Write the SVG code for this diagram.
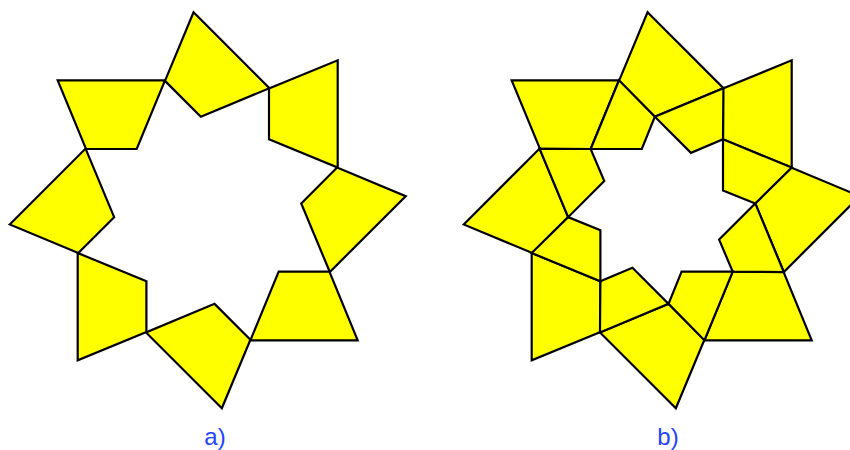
<svg xmlns="http://www.w3.org/2000/svg" xmlns:xlink="http://www.w3.org/1999/xlink" width="850" height="450" viewBox="0 0 850 450">
<style>
.p{fill:#ffff00;stroke:#000;stroke-width:2.2;stroke-linejoin:miter}
.lbl{font-family:"Liberation Sans",Arial,sans-serif;font-size:24px;fill:#2244ff;text-anchor:middle}
</style>
<defs>
<polygon id="outerA" class="p" points="57.7,80.3 165,80.3 136.7,149 86,149"/>
<polygon id="outerB" class="p" points="511.7,80.3 619,80.3 590.7,149 540,149"/>
<polygon id="innerB" class="p" points="619,80.3 654.84,116.75 641.8,149 590.7,149"/>
</defs>
<g id="figure-a">
<g id="a1"><use xlink:href="#outerA"/></g>
<g id="a2"><use xlink:href="#outerA" transform="rotate(45 207.7 210.3)"/></g>
<g id="a3"><use xlink:href="#outerA" transform="rotate(90 207.7 210.3)"/></g>
<g id="a4"><use xlink:href="#outerA" transform="rotate(135 207.7 210.3)"/></g>
<g id="a5"><use xlink:href="#outerA" transform="rotate(180 207.7 210.3)"/></g>
<g id="a6"><use xlink:href="#outerA" transform="rotate(225 207.7 210.3)"/></g>
<g id="a7"><use xlink:href="#outerA" transform="rotate(270 207.7 210.3)"/></g>
<g id="a8"><use xlink:href="#outerA" transform="rotate(315 207.7 210.3)"/></g>
</g>
<g id="figure-b">
<g id="b1"><use xlink:href="#outerB"/></g>
<g id="b2"><use xlink:href="#outerB" transform="rotate(45 661.7 210.3)"/></g>
<g id="b3"><use xlink:href="#outerB" transform="rotate(90 661.7 210.3)"/></g>
<g id="b4"><use xlink:href="#outerB" transform="rotate(135 661.7 210.3)"/></g>
<g id="b5"><use xlink:href="#outerB" transform="rotate(180 661.7 210.3)"/></g>
<g id="b6"><use xlink:href="#outerB" transform="rotate(225 661.7 210.3)"/></g>
<g id="b7"><use xlink:href="#outerB" transform="rotate(270 661.7 210.3)"/></g>
<g id="b8"><use xlink:href="#outerB" transform="rotate(315 661.7 210.3)"/></g>
<g id="bi1"><use xlink:href="#innerB"/></g>
<g id="bi2"><use xlink:href="#innerB" transform="rotate(45 661.7 210.3)"/></g>
<g id="bi3"><use xlink:href="#innerB" transform="rotate(90 661.7 210.3)"/></g>
<g id="bi4"><use xlink:href="#innerB" transform="rotate(135 661.7 210.3)"/></g>
<g id="bi5"><use xlink:href="#innerB" transform="rotate(180 661.7 210.3)"/></g>
<g id="bi6"><use xlink:href="#innerB" transform="rotate(225 661.7 210.3)"/></g>
<g id="bi7"><use xlink:href="#innerB" transform="rotate(270 661.7 210.3)"/></g>
<g id="bi8"><use xlink:href="#innerB" transform="rotate(315 661.7 210.3)"/></g>
</g>
<g id="connectors"/>
<text class="lbl" x="215" y="445">a)</text>
<text class="lbl" x="668" y="445">b)</text>
</svg>
